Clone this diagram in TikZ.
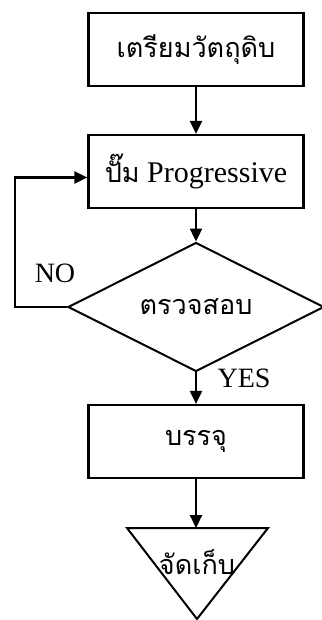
\documentclass[tikz,border=0pt]{standalone}
\usepackage{fontspec}
\setmainfont{Liberation Serif}
\newfontfamily\thaifont[Script=Thai, Scale=0.9]{Loma}
\usetikzlibrary{arrows.meta,shapes.geometric}

\tikzset{
  stepbox/.style={draw, line width=2.2pt, minimum width=215pt, minimum height=73pt,
    inner sep=0pt, font=\fontsize{30}{32}\selectfont},
  decision/.style={draw, diamond, line width=2pt, minimum width=256pt, minimum height=97pt,
    inner sep=0pt, font=\fontsize{30}{32}\selectfont},
  flow/.style={line width=2.2pt, -{Triangle[length=13pt,width=12pt]}},
  lbl/.style={font=\fontsize{28}{30}\selectfont, inner sep=0pt},
}

\begin{document}
\begin{tikzpicture}[x=1pt, y=-1pt]
  \useasboundingbox (0,0) rectangle (321,620);

  % process steps
  \node[stepbox] (prep) at (196,49.5) {\thaifont เตรียมวัตถุดิบ};
  \node[stepbox] (pump) at (196,171.5) {{\thaifont ปั๊ม} Progressive};
  \node[decision] (check) at (196,307) {\thaifont ตรวจสอบ};
  \node[stepbox] (pack) at (196,441.5) {\thaifont บรรจุ};

  % storage symbol: downward triangle
  \coordinate (tl) at (127,528);
  \coordinate (tr) at (268,528);
  \coordinate (tb) at (197,619);
  \coordinate (store) at (196,528);
  \draw[line width=2pt, line join=miter] (tl) -- (tr) -- (tb) -- cycle;
  \node[font=\fontsize{30}{32}\selectfont, inner sep=0pt] (storetext) at (197,562) {\thaifont จัดเก็บ};

  % connectors
  \draw[flow] (prep) -- (pump);
  \draw[flow] (pump) -- (check);
  \draw[flow] (check) -- (pack);
  \draw[flow] (pack) -- (store);
  \draw[flow] (check.west) -- (15,307) |- ([yshift=-6pt]pump.west);

  % branch labels
  \node[lbl] (no) at (55,273) {NO};
  \node[lbl] (yes) at (244,378) {YES};
\end{tikzpicture}
\end{document}
